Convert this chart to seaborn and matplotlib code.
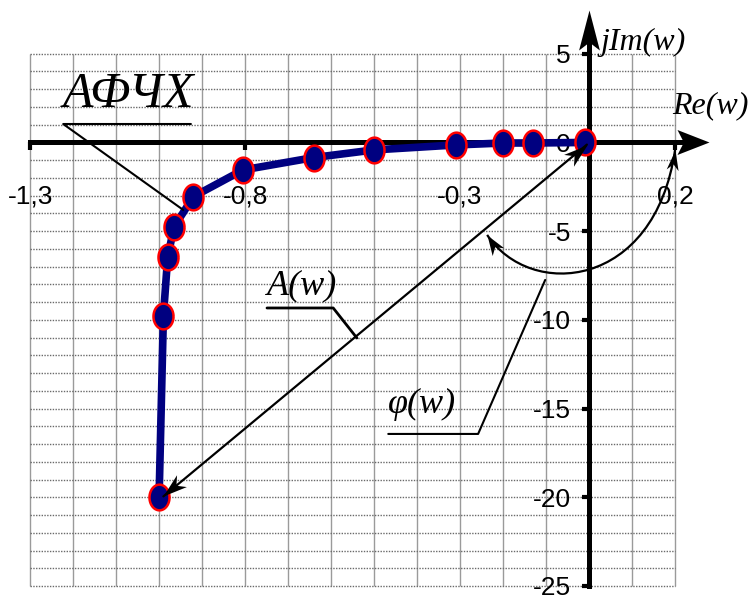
import numpy as np
import matplotlib
matplotlib.use("Agg")
import matplotlib.pyplot as plt
from matplotlib.path import Path
from matplotlib.patches import PathPatch
from matplotlib import font_manager as fm
import seaborn as sns

# Frequency response points: real and imaginary parts
re_w = [-1.00, -0.99, -0.98, -0.965, -0.92, -0.805, -0.64, -0.50, -0.31, -0.20, -0.13, -0.01]
im_w = [-20.0, -9.8, -6.45, -4.75, -3.05, -1.55, -0.85, -0.42, -0.14, -0.03, -0.03, 0.0]

x_ticks = [-1.3, -0.8, -0.3, 0.2]
x_tick_labels = ["-1,3", "-0,8", "-0,3", "0,2"]
y_ticks = [-25, -20, -15, -10, -5, 0, 5]
y_tick_labels = ["-25", "-20", "-15", "-10", "-5", "0", "5"]


def pick_font(names, default):
    for n in names:
        try:
            fm.findfont(fm.FontProperties(family=n), fallback_to_default=False)
            return n
        except ValueError:
            pass
    return default


sns.set_style("white")
sans = pick_font(["Liberation Sans Narrow", "Liberation Sans"], "DejaVu Sans")
serif = pick_font(["Liberation Serif", "DejaVu Serif"], "DejaVu Serif")
plt.rcParams["font.family"] = [sans, "DejaVu Sans"]

fig = plt.figure(figsize=(7.52, 6.0), dpi=100)
ax = fig.add_axes([0, 0, 1, 1])
ax.set_xlim(-1.370, 0.379)
ax.set_ylim(-25.79, 8.03)

# Graph-paper grid
ax.vlines(np.arange(-1.3, 0.2001, 0.1), -25, 5, colors="#9a9a9a", linewidth=1.0, zorder=0.5)
ax.hlines(np.arange(-25, 5.01, 1), -1.3, 0.2, colors="#6a6a6a", linewidth=1.0,
          linestyles=(0, (1, 1)), zorder=0.5)

# Axes through the origin
for side in ("top", "right"):
    ax.spines[side].set_visible(False)
ax.spines["left"].set_position(("data", 0))
ax.spines["bottom"].set_position(("data", 0))
ax.spines["left"].set_bounds(-25, 5.6)
ax.spines["bottom"].set_bounds(-1.3, 0.22)
for side in ("left", "bottom"):
    ax.spines[side].set_linewidth(3.6)
    ax.spines[side].set_color("black")
    ax.spines[side].set_zorder(2.5)

ax.set_xticks(x_ticks)
ax.set_xticklabels(x_tick_labels)
ax.set_yticks(y_ticks)
ax.set_yticklabels(y_tick_labels)
ax.tick_params(axis="x", direction="out", length=6, width=3, pad=24, labelsize=19,
               colors="black")
ax.tick_params(axis="y", direction="out", length=5, width=3, pad=8, labelsize=19,
               colors="black")
ax.xaxis.set_ticks_position("bottom")
ax.yaxis.set_ticks_position("left")

fig.canvas.draw()


def stealth(tip, frm, length_px, half_ratio, notch=0.72, zorder=6):
    """Filled concave arrowhead with its point at `tip`, aimed along frm->tip."""
    p1 = ax.transData.transform(tip)
    p0 = ax.transData.transform(frm)
    ang = np.arctan2(p1[1] - p0[1], p1[0] - p0[0])
    base = np.array([(0, 0), (-1, half_ratio), (-notch, 0), (-1, -half_ratio), (0, 0)])
    rot = np.array([[np.cos(ang), -np.sin(ang)], [np.sin(ang), np.cos(ang)]])
    verts = base @ rot.T
    rescale = np.max(np.abs(verts))
    ms = 2 * rescale * length_px * 72 / fig.dpi
    marker = Path(verts, [Path.MOVETO, Path.LINETO, Path.LINETO, Path.LINETO, Path.CLOSEPOLY])
    ax.plot([tip[0]], [tip[1]], marker=marker, markersize=ms, color="black",
            markeredgewidth=0, linestyle="none", zorder=zorder)


# Axis arrowheads
stealth((0, 7.47), (0, 0), 40, 0.26, notch=0.8)
stealth((0.279, 0), (0, 0), 32, 0.39, notch=0.8)

# Frequency response curve
theta = np.linspace(0, 2 * np.pi, 64)
ellipse = Path(np.column_stack([0.78 * np.cos(theta), np.sin(theta)]))
sns.lineplot(x=re_w, y=im_w, sort=False, estimator=None, ax=ax, color="#000080",
             linewidth=5.5, marker=ellipse, markersize=18.5, markerfacecolor="#000080",
             markeredgecolor="red", markeredgewidth=1.8, zorder=4)

# Amplitude vector from the origin to the lowest-frequency point
start = (re_w[-1] + 0.005, im_w[-1] - 0.12)
end = (re_w[0] + 0.01, im_w[0] + 0.05)
ax.plot([start[0], end[0]], [start[1], end[1]], color="black", linewidth=1.6, zorder=5)
stealth(end, start, 24, 0.32, notch=0.7)
stealth(start, end, 24, 0.32, notch=0.7)

# Phase angle arc
p0 = (0.200, -0.42)
p1 = (0.153, -8.31)
p2 = (-0.137, -8.88)
p3 = (-0.237, -5.21)
arc = Path([p0, p1, p2, p3], [Path.MOVETO, Path.CURVE4, Path.CURVE4, Path.CURVE4])
ax.add_patch(PathPatch(arc, facecolor="none", edgecolor="black", linewidth=1.6, zorder=5))
stealth(p0, p1, 20, 0.3, notch=0.7)
stealth(p3, p2, 20, 0.35, notch=0.7)

# Labels with leader lines
tkw = dict(family=[serif, "DejaVu Serif"], style="italic", color="black", zorder=6)
ax.text(-1.223, 2.0, "АФЧХ", fontsize=36, ha="left", va="baseline", **tkw)
ax.plot([-0.926, -1.223, -0.944], [1.04, 1.04, -3.80], color="black", linewidth=1.5, zorder=5)

ax.text(-0.749, -8.54, "A(w)", fontsize=26, ha="left", va="baseline", **tkw)
ax.plot([-0.749, -0.595, -0.540], [-9.33, -9.33, -11.02], color="black", linewidth=2.0, zorder=5)

ax.text(-0.467, -15.25, "φ(w)", fontsize=26, ha="left", va="baseline", **tkw)
ax.plot([-0.467, -0.258, -0.102], [-16.43, -16.43, -7.75], color="black", linewidth=1.5, zorder=5)

ax.text(0.026, 5.21, "jIm(w)", fontsize=23, ha="left", va="baseline", **tkw)
ax.text(0.193, 1.66, "Re(w)", fontsize=23, ha="left", va="baseline", **tkw)

fig.savefig("out.png", dpi=100)
